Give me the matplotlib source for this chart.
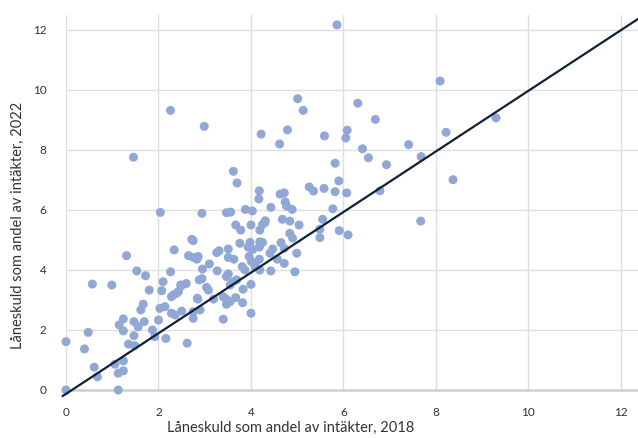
import matplotlib
matplotlib.use("Agg")
import matplotlib.pyplot as plt

# Låneskuld som andel av intäkter (2018 vs 2022)
x2018 = [5.86, 2.26, 2.99, 1.46, 5.01, 5.13, 4.22, 4.79, 4.62, 5.59,
         6.08, 6.05, 6.31, 8.09, 6.69, 6.41, 7.41, 8.22, 9.30, 6.54,
         7.68, 6.93, 5.82, 5.90, 5.82, 6.07, 6.79, 8.37, 5.77, 7.67,
         5.91, 6.10, 3.62, 3.70, 4.18, 4.17, 4.43, 4.63, 4.72, 4.74,
         4.77, 4.89, 5.26, 5.35, 5.58, 2.04, 2.94, 3.47, 3.56, 3.88,
         4.03, 4.31, 4.68, 4.84, 5.55, 3.67, 3.78, 4.00, 4.25, 4.30,
         5.04, 5.49, 5.49, 2.72, 2.75, 3.76, 3.98, 4.25, 4.18, 4.04,
         4.47, 4.65, 4.84, 4.90, 4.72, 4.99, 4.41, 4.57, 4.72, 4.95,
         4.43, 2.34, 3.26, 3.31, 3.51, 2.65, 2.75, 2.86, 2.83, 3.51,
         3.63, 3.96, 4.01, 4.09, 4.18, 4.19, 4.09, 3.81, 3.87, 2.95,
         3.27, 3.51, 3.47, 4.00, 3.83, 3.62, 3.69, 3.55, 1.31, 1.53,
         1.72, 2.26, 2.10, 2.07, 1.80, 0.57, 0.99, 2.88, 2.94, 3.04,
         3.08, 2.85, 3.19, 3.40, 3.47, 3.47, 3.67, 3.82, 4.00, 3.40,
         2.28, 2.39, 2.43, 2.49, 2.50, 2.36, 2.28, 2.03, 2.14, 2.00,
         1.62, 1.67, 1.24, 1.15, 1.24, 1.47, 1.56, 1.69, 1.47, 1.87,
         1.92, 2.16, 2.62, 1.35, 1.49, 0.48, 0.00, 0.40, 0.61, 0.68,
         1.06, 1.24, 1.24, 1.13, 0.00, 1.13, 2.48, 2.32, 2.75, 2.75,
         2.90, 2.84, 4.19, 4.19, 3.94, 3.55, 2.60, 3.10]
y2022 = [12.17, 9.32, 8.79, 7.76, 9.71, 9.32, 8.53, 8.67, 8.20, 8.47,
         8.66, 8.40, 9.56, 10.30, 9.02, 8.04, 8.18, 8.59, 9.07, 7.74,
         7.78, 7.51, 7.56, 6.97, 6.61, 6.57, 6.64, 7.01, 6.04, 5.63,
         5.31, 5.17, 7.29, 6.90, 6.64, 6.37, 6.09, 6.53, 6.57, 6.27,
         6.13, 6.02, 6.77, 6.63, 6.72, 5.92, 5.89, 5.91, 5.93, 6.02,
         5.97, 5.64, 5.69, 5.63, 5.69, 5.50, 5.33, 5.50, 5.52, 5.58,
         5.50, 5.36, 5.08, 5.02, 4.98, 4.89, 4.92, 4.92, 4.76, 4.69,
         4.70, 4.91, 5.22, 5.06, 4.72, 4.56, 4.56, 4.36, 4.22, 3.94,
         3.97, 4.67, 4.58, 4.64, 4.70, 4.48, 4.42, 4.45, 4.36, 4.42,
         4.36, 4.45, 4.28, 4.22, 4.36, 4.00, 4.11, 4.11, 4.00, 4.03,
         3.97, 3.87, 3.78, 3.52, 3.36, 3.61, 3.67, 3.50, 4.48, 3.97,
         3.81, 3.94, 3.61, 3.31, 3.33, 3.53, 3.50, 3.67, 3.71, 3.42,
         3.33, 3.03, 3.03, 3.11, 3.02, 2.86, 3.08, 2.91, 2.56, 2.36,
         3.11, 3.22, 3.28, 3.47, 2.63, 2.50, 2.56, 2.72, 2.78, 2.33,
         2.67, 2.86, 2.37, 2.17, 1.97, 2.28, 2.11, 2.28, 1.81, 2.00,
         1.78, 1.72, 1.56, 1.53, 1.48, 1.92, 1.61, 1.37, 0.76, 0.44,
         0.86, 0.97, 0.64, 0.56, 0.00, 0.00, 3.50, 3.17, 2.61, 2.39,
         2.67, 3.06, 5.33, 4.94, 4.76, 2.95, 3.55, 4.20]

# reference line y = x
ref_x = [-0.07, 12.6]
ref_y = [-0.2, 12.6]

ticks = [0, 2, 4, 6, 8, 10, 12]

plt.rcParams['font.family'] = ['Lato', 'DejaVu Sans']

fig = plt.figure(figsize=(6.38, 4.38), dpi=100)
ax = fig.add_axes([66 / 638, 48 / 438, 1 - 66 / 638, 375 / 438])

ax.scatter(x2018, y2022, s=42, color='#91a7d5', edgecolors='none',
           zorder=3, clip_on=False)
ax.plot(ref_x, ref_y, color='#0f2233', linewidth=1.6, zorder=4, clip_on=False)

ax.set_xlim(0, 12.37)
ax.set_ylim(0, 12.5)
ax.set_xticks(ticks)
ax.set_yticks(ticks)
ax.tick_params(length=0, labelsize=8.5, labelcolor='#333333')
ax.tick_params(axis='x', pad=12)
ax.tick_params(axis='y', pad=14)

ax.grid(True, color='#dedede', linewidth=1)
ax.set_axisbelow(True)
for s in ['top', 'right', 'left']:
    ax.spines[s].set_visible(False)
ax.spines['bottom'].set_color('#cfcfcf')
ax.spines['bottom'].set_linewidth(1.8)

ax.set_xlabel('Låneskuld som andel av intäkter, 2018', fontsize=10.5, color='#333333')
ax.set_ylabel('Låneskuld som andel av intäkter, 2022', fontsize=10.5, color='#333333')
ax.xaxis.set_label_coords(0.392, -0.083)
ax.yaxis.set_label_coords(-0.072, 0.44)

plt.savefig('out.png', dpi=100)
